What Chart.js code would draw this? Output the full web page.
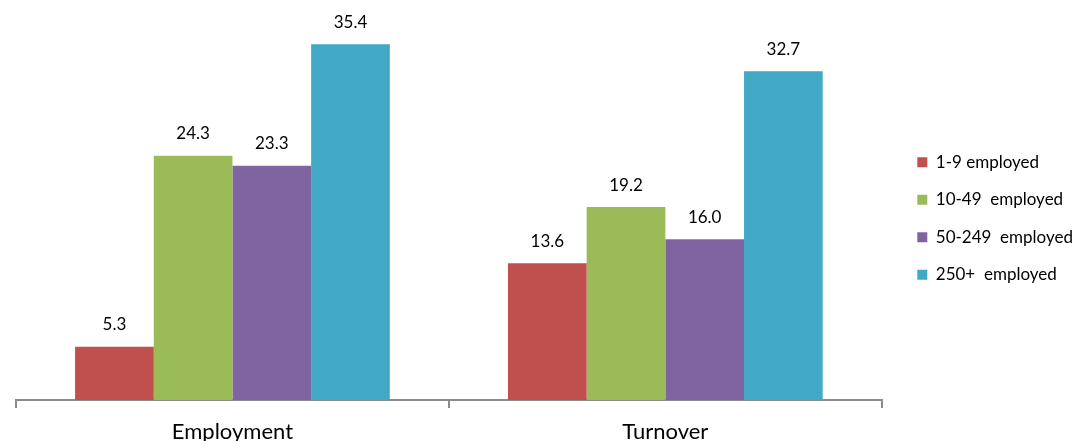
<!DOCTYPE html>
<html>
<head>
<meta charset="utf-8">
<script src="https://cdn.jsdelivr.net/npm/chart.js@4"></script>
<style>
  html, body { margin: 0; padding: 0; background: #fff; }
  #wrap { width: 1075px; height: 441px; }
</style>
</head>
<body>
<div id="wrap"><canvas id="myChart"></canvas></div>
<script>
// --- Data ---
const categories = ['Employment', 'Turnover']
const seriesNames = ['1-9 employed', '10-49  employed', '50-249  employed', '250+  employed']
const size1to9 = [5.3, 13.6]
const size10to49 = [24.3, 19.2]
const size50to249 = [23.3, 16.0]
const size250plus = [35.4, 32.7]
const colors = ['#C0504D', '#9BBB59', '#8064A2', '#41A9C6']

const FONT = 'Lato, "Open Sans", sans-serif'

// value labels over each bar
const valueLabels = {
    id: 'valueLabels',
    afterDatasetsDraw(chart) {
        const c = chart.ctx
        c.save()
        c.font = '17px ' + FONT
        c.fillStyle = '#000'
        c.textAlign = 'center'
        c.textBaseline = 'middle'
        chart.data.datasets.forEach((ds, i) => {
            chart.getDatasetMeta(i).data.forEach((bar, j) => {
                c.fillText(ds.data[j].toFixed(1), bar.x, bar.y - 22)
            })
        })
        c.restore()
    }
}

// leave some white space between plot and legend
const legendGap = {
    id: 'legendGap',
    afterInit(chart) {
        const legend = chart.legend
        const fit = legend.fit
        legend.fit = function () {
            fit.call(this)
            this.width += 7
        }
    },
    afterLayout(chart) {
        chart.legend.left += 15
        chart.legend.top -= 4
    }
}

const series = [size1to9, size10to49, size50to249, size250plus]

const ctx = document.getElementById('myChart').getContext('2d')
const myChart = new Chart(ctx, {
    type: 'bar',
    data: {
        labels: categories,
        datasets: series.map((d, i) => ({
            label: seriesNames[i],
            data: d,
            backgroundColor: colors[i],
            borderWidth: 0
        }))
    },
    options: {
        responsive: true,
        maintainAspectRatio: false,
        animation: false,
        datasets: { bar: { categoryPercentage: 0.727, barPercentage: 1.0 } },
        layout: { padding: { left: 16, right: 0, top: 0, bottom: 0 } },
        plugins: {
            legend: {
                position: 'right',
                align: 'center',
                labels: {
                    boxWidth: 10,
                    boxHeight: 10,
                    padding: 20.5,
                    color: '#000',
                    font: { family: FONT, size: 17 }
                }
            },
            tooltip: { enabled: false }
        },
        scales: {
            x: {
                afterFit(scale) { scale.height = 41 },
                grid: {
                    offset: true,
                    drawOnChartArea: false,
                    tickLength: 8,
                    color: '#8c8c8c',
                    lineWidth: 2
                },
                border: { color: '#8c8c8c', width: 2 },
                ticks: {
                    color: '#000',
                    padding: 13,
                    font: { family: FONT, size: 22, lineHeight: 1 }
                }
            },
            y: {
                display: false,
                min: 0,
                max: 39.8
            }
        }
    },
    plugins: [valueLabels, legendGap]
})
</script>
</body>
</html>
